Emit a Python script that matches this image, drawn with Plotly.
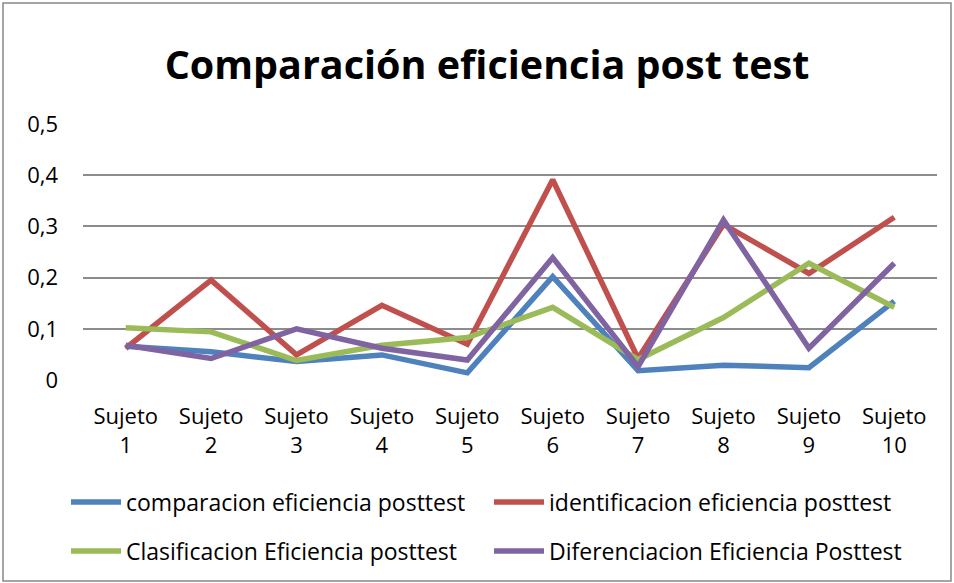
import plotly.graph_objects as go

categories = ["Sujeto<br>1", "Sujeto<br>2", "Sujeto<br>3", "Sujeto<br>4", "Sujeto<br>5",
              "Sujeto<br>6", "Sujeto<br>7", "Sujeto<br>8", "Sujeto<br>9", "Sujeto<br>10"]
comparacion = [0.066, 0.055, 0.036, 0.049, 0.014, 0.202, 0.018, 0.029, 0.024, 0.154]
identificacion = [0.062, 0.195, 0.049, 0.146, 0.070, 0.391, 0.042, 0.304, 0.208, 0.318]
clasificacion = [0.102, 0.094, 0.038, 0.068, 0.083, 0.142, 0.040, 0.122, 0.228, 0.142]
diferenciacion = [0.068, 0.042, 0.100, 0.062, 0.039, 0.239, 0.026, 0.3125, 0.062, 0.228]
names = ["comparacion eficiencia posttest", "identificacion eficiencia posttest",
         "Clasificacion Eficiencia posttest", "Diferenciacion Eficiencia Posttest"]
colors = ["#4F81BD", "#C0504D", "#9BBB59", "#8064A2"]
y_ticks = [0, 0.1, 0.2, 0.3, 0.4, 0.5]

FONT = "Open Sans"
W, H = 954, 583
ml, mr, mt, mb = 83, 17, 124, 203
pw, ph = W - ml - mr, H - mt - mb

fig = go.Figure()
series = [comparacion, identificacion, clasificacion, diferenciacion]
legend_ids = ["legend", "legend2", "legend3", "legend4"]
legend_pos = [(66, 502), (489, 502), (66, 551), (489, 551)]
for vals, name, col, lg in zip(series, names, colors, legend_ids):
    fig.add_trace(go.Scatter(x=list(range(10)), y=vals, name=name, mode="lines",
                             line=dict(color=col, width=5.5), legend=lg, showlegend=True))


def px(x):
    return (x - ml) / pw


def py(y):
    return (H - mb - y) / ph


legend_layout = {}
for lg, (lx, ly) in zip(legend_ids, legend_pos):
    legend_layout[lg] = dict(orientation="h", xref="container", yref="container",
                             x=lx / W, y=1 - ly / H, xanchor="left", yanchor="middle",
                             font=dict(size=23), itemwidth=50, bgcolor="rgba(0,0,0,0)")

fig.update_layout(
    width=W, height=H,
    showlegend=True,
    margin=dict(l=ml, r=mr, t=mt, b=mb),
    paper_bgcolor="white", plot_bgcolor="white",
    separators=",.",
    font=dict(family=FONT, size=22, color="black"),
    title=dict(text="<b>Comparación eficiencia post test</b>", x=487 / W, xanchor="center",
               y=1 - 65 / H, yanchor="middle", font=dict(family=FONT, size=39.5, color="black")),
    xaxis=dict(range=[-0.5, 9.5], tickmode="array", tickvals=list(range(10)), ticktext=categories,
               showgrid=False, zeroline=False, showline=False, ticks="",
               ticklabelstandoff=21, tickfont=dict(size=22)),
    yaxis=dict(range=[0, 0.5], tickmode="array", tickvals=y_ticks, showgrid=True,
               gridcolor="#8C8C8C", gridwidth=1.5, zeroline=False, showline=False, ticks="",
               ticklabelstandoff=24, tickfont=dict(size=22)),
    shapes=[dict(type="rect", xref="paper", yref="paper", x0=px(3), x1=px(W - 3),
                 y0=py(3), y1=py(H - 2), line=dict(color="#888888", width=1.5), layer="below")],
    **legend_layout,
)
fig.write_html("out.html", config={"displayModeBar": False},
               post_script="document.body.style.margin='0';")
